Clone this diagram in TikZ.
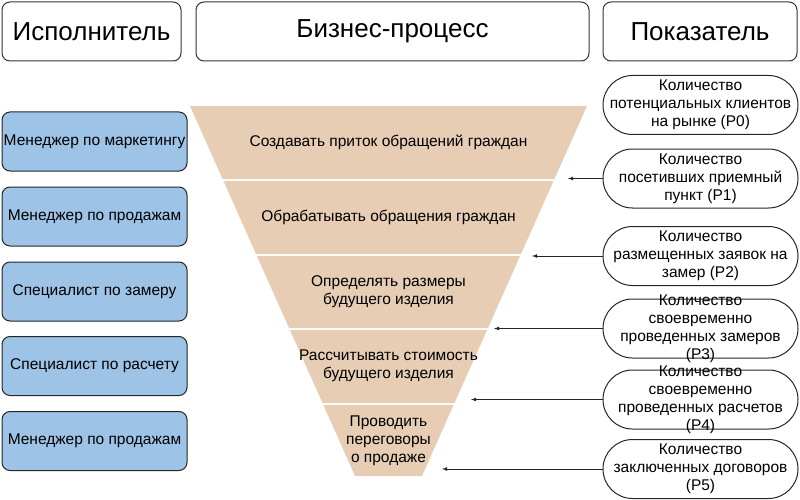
\documentclass[tikz,border=0pt]{standalone}
\usepackage{fontspec}
\setmainfont{Liberation Sans}
\definecolor{funneltan}{HTML}{E6CDB4}
\definecolor{roleblue}{HTML}{9DC3E6}
\tikzset{
	head/.style={draw=black!80, line width=1pt, rounded corners=8pt, minimum height=59pt, inner sep=0pt, font=\fontsize{26}{30}\selectfont},
	role/.style={draw=black!85, fill=roleblue, line width=1pt, rounded corners=8pt, minimum width=185pt, minimum height=59pt, inner sep=0pt, font=\fontsize{15.5}{18}\selectfont},
	kpi/.style={draw=black!85, line width=1pt, rounded corners=29.5pt, minimum width=195pt, minimum height=59pt, inner sep=0pt},
	kpitext/.style={align=center, inner sep=0pt, font=\fontsize{15.5}{18}\selectfont},
	stagetext/.style={align=center, inner sep=0pt, font=\fontsize{15.5}{18}\selectfont},
	pointer/.style={-latex, draw=black!85, line width=0.8pt},
}

\begin{document}
\begin{tikzpicture}[x=1pt, y=-1pt]
			%%%%% START %%%%%
			
			\useasboundingbox (0, 0) rectangle (800, 500);
			
			\node[head, minimum width=179pt] (hrole) at (91.5, 31.5) {Исполнитель};
			\node[head, minimum width=393pt] (hproc) at (392.5, 31.5) {Бизнес-процесс};
			\node[head, minimum width=194pt] (hkpi) at (700, 31.5) {Показатель};
			
			\fill[funneltan] (190, 106) -- (587, 106) -- (554.4, 179) -- (222.6, 179) -- cycle;
			\fill[funneltan] (223.5, 181) -- (553.5, 181) -- (521, 254) -- (256, 254) -- cycle;
			\fill[funneltan] (256.9, 256) -- (520.1, 256) -- (488, 328) -- (289, 328) -- cycle;
			\fill[funneltan] (289.9, 330) -- (487.1, 330) -- (454.5, 403) -- (322.5, 403) -- cycle;
			\fill[funneltan] (323.4, 405) -- (453.6, 405) -- (422, 476) -- (355, 476) -- cycle;
			
			\node[stagetext] (s1) at (388.5, 142) {Создавать приток обращений граждан};
			\node[stagetext] (s2) at (388.5, 217) {Обрабатывать обращения граждан};
			\node[stagetext] (s3) at (388.5, 292) {Определять размеры\\будущего изделия};
			\node[stagetext] (s4) at (388.5, 366) {Рассчитывать стоимость\\будущего изделия};
			\node[stagetext] (s5) at (388.5, 441) {Проводить\\переговоры\\о продаже};
			
			\node[role] (r1) at (94.5, 141.5) {Менеджер по маркетингу};
			\node[role] (r2) at (94.5, 216.5) {Менеджер по продажам};
			\node[role] (r3) at (94.5, 291.5) {Специалист по замеру};
			\node[role] (r4) at (94.5, 366) {Специалист по расчету};
			\node[role] (r5) at (94.5, 441) {Менеджер по продажам};
			
			\node[kpi] (p0) at (700.5, 105) {};
			\node[kpitext] at (p0) {Количество\\потенциальных клиентов\\на рынке (P0)};
			\node[kpi] (p1) at (700.5, 178.5) {};
			\node[kpitext] at (p1) {Количество\\посетивших приемный\\пункт (P1)};
			\node[kpi] (p2) at (700.5, 256) {};
			\node[kpitext] at (p2) {Количество\\размещенных заявок на\\замер (P2)};
			\node[kpi] (p3) at (700.5, 328.5) {};
			\node[kpitext] at (p3) {Количество\\своевременно\\проведенных замеров\\(P3)};
			\node[kpi] (p4) at (700.5, 399.5) {};
			\node[kpitext] at (p4) {Количество\\своевременно\\проведенных расчетов\\(P4)};
			\node[kpi] (p5) at (700.5, 469) {};
			\node[kpitext] at (p5) {Количество\\заключенных договоров\\(P5)};
			
			\coordinate (t1) at (568, 178.5);
			\coordinate (t2) at (532, 256);
			\coordinate (t3) at (494, 328.5);
			\coordinate (t4) at (471, 399.5);
			\coordinate (t5) at (442, 469);
			
			\draw[pointer] (p1.west) -- (t1);
			\draw[pointer] (p2.west) -- (t2);
			\draw[pointer] (p3.west) -- (t3);
			\draw[pointer] (p4.west) -- (t4);
			\draw[pointer] (p5.west) -- (t5);
			
			%%%%% END %%%%%
		\end{tikzpicture}
\end{document}
